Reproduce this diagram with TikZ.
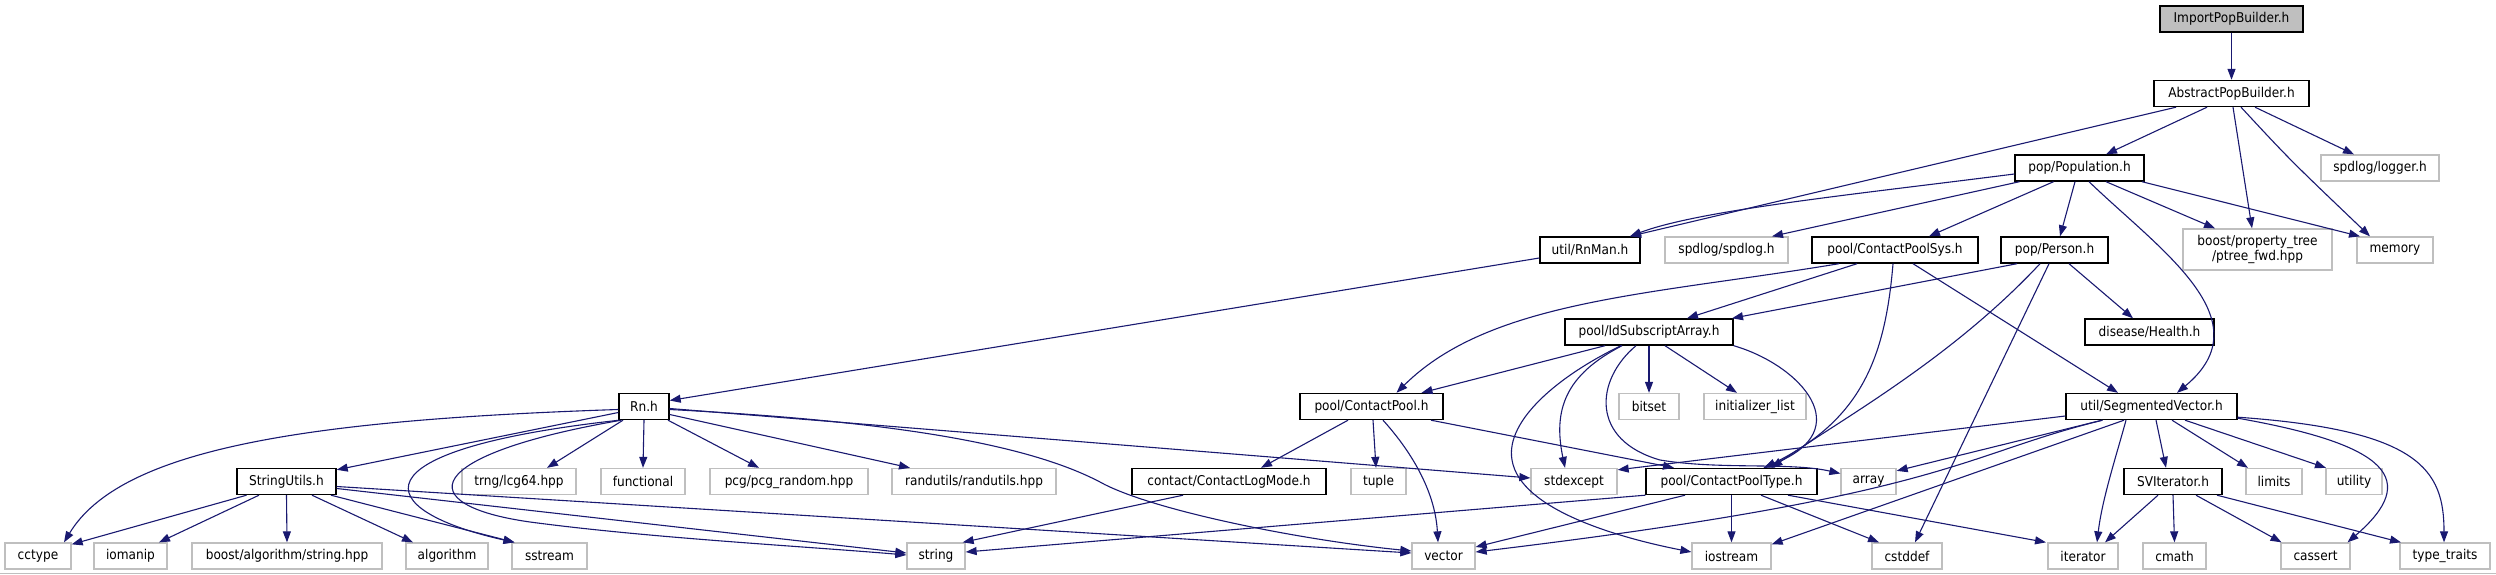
\documentclass[tikz,border=0pt]{standalone}
\usepackage{fontspec}
\newfontfamily\dxfont{DejaVu Sans}[FakeStretch=0.9]
\usetikzlibrary{arrows.meta}
\definecolor{edgeblue}{HTML}{191970}
\definecolor{grayB}{HTML}{BFBFBF}
\begin{document}
\begin{tikzpicture}[x=1pt,y=-1pt,
  inbox/.style={draw=black, line width=1.4pt, fill=white, minimum height=26pt, inner sep=0pt,
    font=\dxfont\fontsize{13.5pt}{15pt}\selectfont, text=black},
  ext/.style={inbox, draw=grayB, line width=1.3pt},
  root/.style={inbox, fill=grayB},
  dep/.style={draw=edgeblue, line width=1.1pt, -{Triangle[length=11pt,width=8pt]}}]
\useasboundingbox (0,0) rectangle (2496,575);
\draw[grayB, line width=1.5pt] (0,573.5) -- (2496,573.5);
% row 0-2
\node[root, minimum width=143pt] (imp) at (2231.5,19) {ImportPopBuilder.h};
\node[inbox, minimum width=155pt] (apb) at (2231.5,93.5) {AbstractPopBuilder.h};
\node[inbox, minimum width=129pt] (pop) at (2079.5,168) {pop/Population.h};
\node[ext, minimum width=118pt] (logger) at (2380,168) {spdlog/logger.h};
% row 3
\node[inbox, minimum width=100pt] (rnman) at (1590,250) {util/RnMan.h};
\node[ext, minimum width=123pt] (spdlog) at (1726.5,250) {spdlog/spdlog.h};
\node[inbox, minimum width=166pt] (cps) at (1895,250) {pool/ContactPoolSys.h};
\node[inbox, minimum width=107pt] (person) at (2054.5,250) {pop/Person.h};
\node[ext, minimum width=149pt, minimum height=41pt, align=center] (ptree) at (2257.5,249.5) {boost/property\_tree\\/ptree\_fwd.hpp};
\node[ext, minimum width=76pt] (memory) at (2395,250) {memory};
% row 4
\node[inbox, minimum width=168pt] (ida) at (1649,332) {pool/IdSubscriptArray.h};
\node[inbox, minimum width=129pt] (health) at (2149.5,332) {disease/Health.h};
% row 5
\node[inbox, minimum width=50pt] (rn) at (644,406.5) {Rn.h};
\node[inbox, minimum width=143pt] (cp) at (1371.5,406.5) {pool/ContactPool.h};
\node[ext, minimum width=60pt] (bitset) at (1649,406.5) {bitset};
\node[ext, minimum width=102pt] (initl) at (1755,406.5) {initializer\_list};
\node[inbox, minimum width=171pt] (segv) at (2151.5,406.5) {util/SegmentedVector.h};
% row 6
\node[inbox, minimum width=99pt] (su) at (286.5,481.5) {StringUtils.h};
\node[ext, minimum width=114pt] (trng) at (519,481.5) {trng/lcg64.hpp};
\node[ext, minimum width=84pt] (functional) at (643,481.5) {functional};
\node[ext, minimum width=158pt] (pcg) at (789,481.5) {pcg/pcg\_random.hpp};
\node[ext, minimum width=164pt] (randutils) at (974,481.5) {randutils/randutils.hpp};
\node[inbox, minimum width=194pt] (clm) at (1229,481.5) {contact/ContactLogMode.h};
\node[ext, minimum width=55pt] (tuple) at (1378.5,481.5) {tuple};
\node[ext, minimum width=86pt] (stdexcept) at (1574,481.5) {stdexcept};
\node[inbox, minimum width=171pt] (cpt) at (1731.5,481.5) {pool/ContactPoolType.h};
\node[ext, minimum width=55pt] (array) at (1868.5,481.5) {array};
\node[inbox, minimum width=98pt] (svi) at (2173,481.5) {SVIterator.h};
\node[ext, minimum width=56pt] (limits) at (2274,481.5) {limits};
\node[ext, minimum width=56pt] (utility) at (2354,481.5) {utility};
% row 7
\node[ext, minimum width=66pt] (cctype) at (38,556) {cctype};
\node[ext, minimum width=73pt] (iomanip) at (130.5,556) {iomanip};
\node[ext, minimum width=190pt] (bas) at (287,556) {boost/algorithm/string.hpp};
\node[ext, minimum width=82pt] (algorithm) at (447,556) {algorithm};
\node[ext, minimum width=75pt] (sstream) at (549.5,556) {sstream};
\node[ext, minimum width=58pt] (string) at (936,556) {string};
\node[ext, minimum width=63pt] (vector) at (1443.5,556) {vector};
\node[ext, minimum width=79pt] (iostream) at (1731.5,556) {iostream};
\node[ext, minimum width=70pt] (cstddef) at (1907,556) {cstddef};
\node[ext, minimum width=70pt] (iterator) at (2083,556) {iterator};
\node[ext, minimum width=63pt] (cmath) at (2174.5,556) {cmath};
\node[ext, minimum width=69pt] (cassert) at (2315.5,556) {cassert};
\node[ext, minimum width=90pt] (typetraits) at (2445,556) {type\_traits};
% edges: top
\draw[dep] (imp) -- (apb);
\draw[dep] ([xshift=-55.5pt]apb.south) -- ([xshift=40pt]rnman.north);
\draw[dep] ([xshift=-24.5pt]apb.south) -- ([xshift=26.5pt]pop.north);
\draw[dep] ([xshift=1.5pt]apb.south) -- ([xshift=-5.5pt]ptree.north);
\draw[dep] ([xshift=9.5pt]apb.south) .. controls (2290,160) .. ([xshift=-25pt]memory.north);
\draw[dep] ([xshift=23.5pt]apb.south) -- ([xshift=-26pt]logger.north);
% Population
\draw[dep] ([yshift=-6pt]pop.west) .. controls (1850,195) and (1700,210) .. ([xshift=40pt]rnman.north);
\draw[dep] ([xshift=-60pt]pop.south) -- ([xshift=45.5pt]spdlog.north);
\draw[dep] ([xshift=-26pt]pop.south) -- ([xshift=34pt]cps.north);
\draw[dep] ([xshift=-4.5pt]pop.south) -- ([xshift=5.5pt]person.north);
\draw[dep] ([xshift=9.5pt]pop.south) .. controls (2160,250) and (2265,320) .. ([xshift=25.5pt]segv.north);
\draw[dep] ([xshift=26.5pt]pop.south) -- ([xshift=-42.5pt]ptree.north);
\draw[dep] ([xshift=62.5pt]pop.south) -- ([xshift=-35pt]memory.north);
% Person
\draw[dep] ([xshift=-37.5pt]person.south) -- ([xshift=83pt]ida.north);
\draw[dep] ([xshift=-14.5pt]person.south) .. controls (1950,360) and (1840,420) .. ([xshift=40pt]cpt.north);
\draw[dep] ([xshift=-5.5pt]person.south) -- ([xshift=8pt]cstddef.north);
\draw[dep] ([xshift=14.5pt]person.south) -- ([xshift=-16.5pt]health.north);
% ContactPoolSys
\draw[dep] ([xshift=-56pt]cps.south) .. controls (1650,295) and (1490,300) .. ([xshift=25pt]cp.north);
\draw[dep] ([xshift=-38pt]cps.south) -- ([xshift=38pt]ida.north);
\draw[dep] ([xshift=-2pt]cps.south) .. controls (1885,360) and (1860,420) .. ([xshift=33pt]cpt.north);
\draw[dep] ([xshift=18pt]cps.south) -- ([xshift=-33.5pt]segv.north);
% RnMan
\draw[dep] ([yshift=-8pt]rnman.west) -- ([yshift=6pt]rn.east);
% IdSubscriptArray
\draw[dep] ([xshift=-44pt]ida.south) -- ([xshift=50pt]cp.north);
\draw[dep] ([xshift=-28pt]ida.south) .. controls (1560,375) and (1505,420) .. (1512,460) .. controls (1520,510) and (1620,538) .. ([yshift=4pt]iostream.west);
\draw[dep] ([xshift=-27pt]ida.south) .. controls (1565,375) and (1553,410) .. ([xshift=-9pt]stdexcept.north);
\draw[dep] ([xshift=-13pt]ida.south) .. controls (1595,380) and (1590,440) .. (1660,460) .. controls (1720,470) and (1790,462) .. ([yshift=8pt]array.west);
\draw[dep] (ida.south) -- (bitset.north);
\draw[dep] ([xshift=16pt]ida.south) -- ([xshift=-18pt]initl.north);
\draw[dep] (ida.south east) .. controls (1800,365) and (1860,430) .. ([xshift=32pt]cpt.north);
% ContactPool
\draw[dep] ([xshift=-23.5pt]cp.south) -- ([xshift=32pt]clm.north);
\draw[dep] ([xshift=1.5pt]cp.south) -- ([xshift=-2.5pt]tuple.north);
\draw[dep] ([xshift=11.5pt]cp.south) .. controls (1410,450) and (1435,490) .. ([xshift=-5.5pt]vector.north);
\draw[dep] ([xshift=59.5pt]cp.south) -- ([xshift=-57.5pt]cpt.north);
\draw[dep] ([xshift=-46pt]clm.south) -- ([xshift=-3pt]string.north east);
% ContactPoolType
\draw[dep] (cpt.south west) -- ([yshift=4pt]string.east);
\draw[dep] ([xshift=-46.5pt]cpt.south) -- ([yshift=9pt]vector.east);
\draw[dep] (cpt.south) -- (iostream.north);
\draw[dep] ([xshift=29.5pt]cpt.south) -- ([xshift=-28pt]cstddef.north);
\draw[dep] ([xshift=56.5pt]cpt.south) -- ([xshift=-37pt]iterator.north);
% SegmentedVector
\draw[dep] ([yshift=-9.5pt]segv.west) -- ([yshift=-2pt]stdexcept.north east);
\draw[dep] ([xshift=-49.5pt]segv.south) -- ([yshift=-3pt]array.north east);
\draw[dep] ([xshift=-49pt]segv.south) .. controls (1960,455) and (1950,495) .. ([yshift=4pt]vector.east);
\draw[dep] ([xshift=-27.5pt]segv.south) -- ([yshift=-2pt]iostream.north east);
\draw[dep] ([xshift=-25.5pt]segv.south) .. controls (2115,460) and (2102,500) .. ([xshift=14pt]iterator.north);
\draw[dep] ([xshift=4.5pt]segv.south) -- ([xshift=-7pt]svi.north);
\draw[dep] ([xshift=20.5pt]segv.south) -- ([xshift=-26pt]limits.north);
\draw[dep] ([xshift=33.5pt]segv.south) -- ([xshift=-28pt]utility.north);
\draw[dep] ([yshift=2pt]segv.south east) .. controls (2390,445) and (2420,480) .. ([xshift=32pt]cassert.north);
\draw[dep] ([yshift=3pt]segv.south east) .. controls (2420,430) and (2444,470) .. ([xshift=-1pt]typetraits.north);
% SVIterator
\draw[dep] ([xshift=-15pt]svi.south) -- ([xshift=22pt]iterator.north);
\draw[dep] (svi.south) -- (cmath.north);
\draw[dep] ([xshift=23pt]svi.south) -- ([xshift=-34pt]cassert.north);
\draw[dep] ([xshift=44pt]svi.south) -- ([xshift=-44pt]typetraits.north);
% Rn.h
\draw[dep] ([xshift=-21pt]rn.south) -- ([xshift=28pt]trng.north);
\draw[dep] (rn.south) -- (functional.north);
\draw[dep] ([xshift=24pt]rn.south) -- ([xshift=-30pt]pcg.north);
\draw[dep] ([yshift=-8pt]rn.east) -- ([xshift=-64pt]randutils.north);
\draw[dep] ([yshift=-2pt]rn.east) -- ([yshift=3.5pt]stdexcept.west);
\draw[dep] ([yshift=-3pt]rn.east) .. controls (870,420) and (1020,440) .. (1100,482) .. controls (1150,510) and (1300,540) .. ([yshift=5pt]vector.west);
\draw[dep] ([xshift=3pt]rn.south west) .. controls (420,455) and (410,505) .. (530,522) .. controls (650,538) and (800,546) .. ([yshift=1pt]string.west);
\draw[dep] ([xshift=1pt]rn.south west) .. controls (350,450) and (370,510) .. ([xshift=-35pt]sstream.north);
\draw[dep] ([yshift=-3pt]rn.west) .. controls (300,420) and (120,450) .. ([xshift=26pt]cctype.north);
\draw[dep] ([yshift=-6pt]rn.west) -- ([yshift=-2pt]su.north east);
% StringUtils
\draw[dep] ([xshift=-40pt]su.south) -- ([yshift=-2pt]cctype.north east);
\draw[dep] ([xshift=-27.5pt]su.south) -- ([xshift=28.5pt]iomanip.north);
\draw[dep] (su.south) -- (bas.north);
\draw[dep] ([xshift=25.5pt]su.south) -- ([xshift=-34pt]algorithm.north);
\draw[dep] ([xshift=44.5pt]su.south) -- ([xshift=-35pt]sstream.north);
\draw[dep] ([yshift=-7pt]su.east) -- ([yshift=3pt]string.west);
\draw[dep] ([yshift=-5pt]su.east) -- ([yshift=3pt]vector.west);
\end{tikzpicture}
\end{document}
